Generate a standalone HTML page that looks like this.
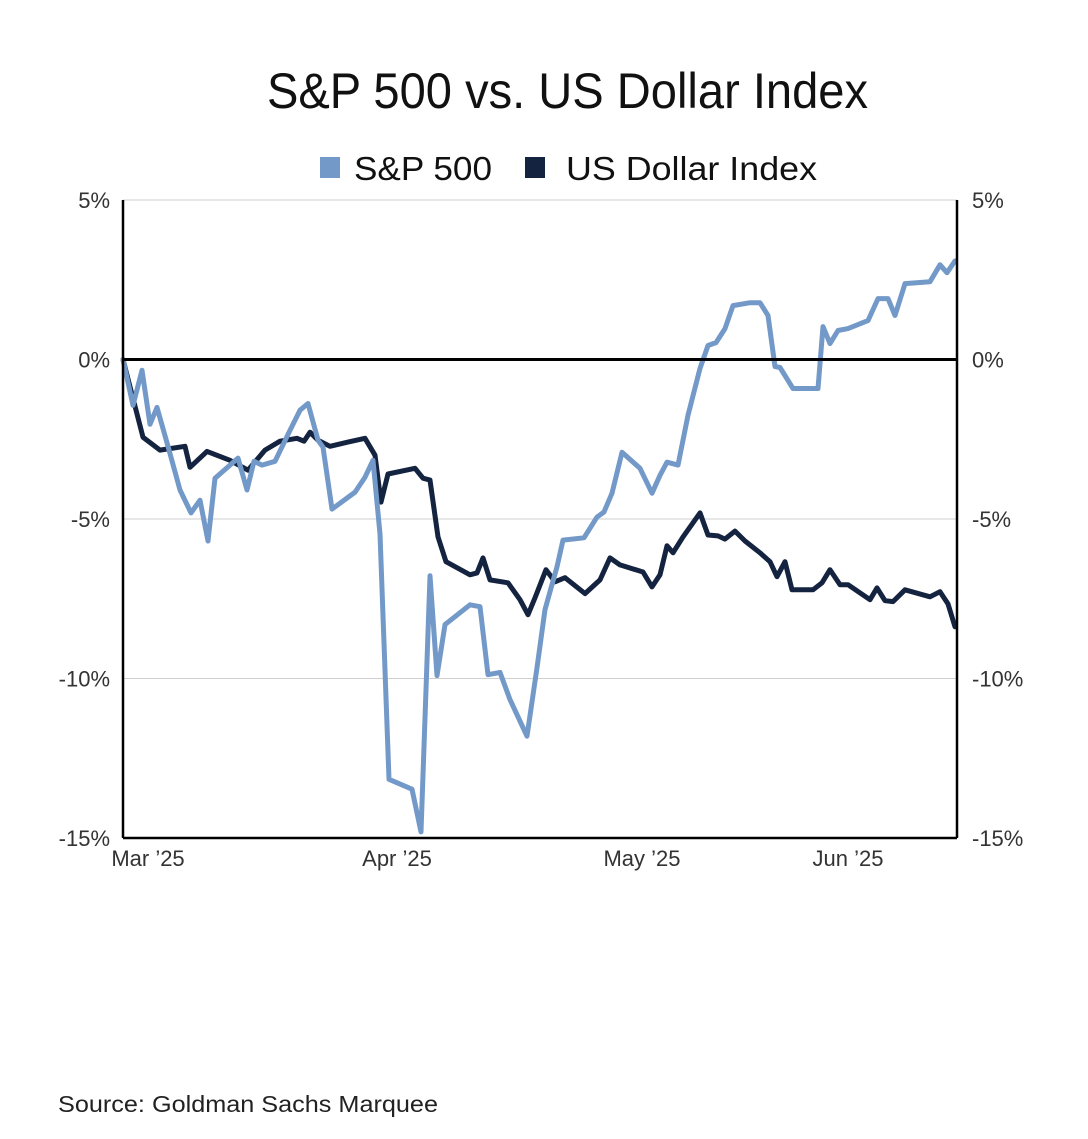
<!DOCTYPE html>
<html><head><meta charset="utf-8"><style>
body{margin:0;background:#fff;width:1088px;height:1134px;overflow:hidden}
svg text{font-family:"Liberation Sans Narrow","Liberation Sans",sans-serif}
</style></head><body>
<svg id="chart" width="1088" height="1134" xmlns="http://www.w3.org/2000/svg">
<text x="267" y="108" font-size="50" textLength="601" lengthAdjust="spacingAndGlyphs" fill="#111">S&amp;P 500 vs. US Dollar Index</text>
<rect x="320" y="157" width="20" height="21" fill="#7399c9"/>
<text x="354" y="180" font-size="33" textLength="138" lengthAdjust="spacingAndGlyphs" fill="#111">S&amp;P 500</text>
<rect x="525" y="157" width="20" height="21" fill="#14233f"/>
<text x="566" y="180" font-size="33" textLength="251" lengthAdjust="spacingAndGlyphs" fill="#111">US Dollar Index</text>
<g id="grid"></g><g id="series"></g><g id="axes"></g>
<text x="58" y="1112" font-size="23" textLength="380" lengthAdjust="spacingAndGlyphs" fill="#222" style="font-family:'Liberation Sans',sans-serif">Source: Goldman Sachs Marquee</text>
</svg>
<script>
const spDays=[0,1.0,1.9,2.7,3.4,4.5,5.7,6.8,7.7,8.5,9.2,11.5,12.4,13.1,13.9,15.2,16.7,17.7,18.5,19.5,20.0,20.9,23.2,24.2,25.0,25.7,26.6,28.9,29.8,30.7,31.4,32.2,34.7,35.7,36.5,37.7,38.7,40.4,41.4,42.2,43.4,44.0,46.1,47.4,48.1,48.9,49.9,51.7,52.9,53.7,54.4,55.5,56.5,57.7,58.5,59.3,60.2,61.0,62.7,63.7,64.5,65.2,65.7,67.0,69.5,70.0,70.7,71.5,72.5,74.5,75.5,76.5,77.2,78.2,80.7,81.7,82.4,83.2];
const spValues=[0,-1.44,-0.34,-2.03,-1.5,-2.72,-4.09,-4.81,-4.41,-5.69,-3.72,-3.09,-4.09,-3.19,-3.31,-3.19,-2.22,-1.59,-1.38,-2.53,-2.75,-4.69,-4.16,-3.69,-3.16,-5.47,-13.16,-13.47,-14.81,-6.78,-9.91,-8.31,-7.69,-7.75,-9.88,-9.81,-10.66,-11.81,-9.66,-7.84,-6.5,-5.66,-5.59,-4.94,-4.78,-4.19,-2.91,-3.41,-4.19,-3.63,-3.22,-3.31,-1.75,-0.28,0.44,0.53,0.97,1.69,1.78,1.78,1.38,-0.22,-0.25,-0.91,-0.91,1.03,0.5,0.91,0.97,1.22,1.91,1.91,1.38,2.38,2.44,2.97,2.72,3.09];
const usdDays=[0,1.0,2.0,3.7,6.2,6.7,8.4,10.7,12.5,14.2,15.7,17.4,18.1,18.7,19.5,20.7,22.5,24.2,25.2,25.8,26.5,29.2,30.0,30.7,31.5,32.3,34.7,35.4,36.0,36.7,38.5,39.7,40.5,41.2,42.3,43.2,44.2,46.2,47.7,48.7,49.7,52.0,52.9,53.7,54.4,55.0,56.0,57.7,58.5,59.5,60.2,61.2,62.2,63.7,64.7,65.4,66.2,66.9,69.0,69.9,70.7,71.7,72.5,74.7,75.4,76.2,77.0,78.2,80.7,81.7,82.5,83.2];
const usdValues=[0,-1.22,-2.44,-2.84,-2.72,-3.38,-2.88,-3.16,-3.47,-2.84,-2.56,-2.47,-2.56,-2.28,-2.53,-2.72,-2.59,-2.47,-3.0,-4.47,-3.59,-3.41,-3.72,-3.78,-5.56,-6.34,-6.75,-6.69,-6.22,-6.91,-7.0,-7.53,-8.0,-7.47,-6.59,-6.97,-6.84,-7.34,-6.91,-6.22,-6.44,-6.66,-7.13,-6.75,-5.84,-6.06,-5.56,-4.81,-5.5,-5.53,-5.63,-5.38,-5.69,-6.06,-6.34,-6.81,-6.34,-7.22,-7.22,-7.0,-6.59,-7.06,-7.06,-7.53,-7.16,-7.56,-7.59,-7.22,-7.44,-7.28,-7.66,-8.38];
const yTicks=[5,0,-5,-10,-15];
const yTickLabels=["5%","0%","-5%","-10%","-15%"];
const xTickDays=[2.5,27.4,51.9,72.5];
const xTickLabels=["Mar \u201925","Apr \u201925","May \u201925","Jun \u201925"];

const NS="http://www.w3.org/2000/svg";
const X0=123,X1=957,Y0=838,Y1=200;
const xs=d=>X0+(d/83.4)*(X1-X0);
const ys=v=>Y1+(5-v)/20*(Y0-Y1);
function mk(tag,attrs,parent){const e=document.createElementNS(NS,tag);for(const k in attrs)e.setAttribute(k,attrs[k]);parent.appendChild(e);return e;}
const grid=document.getElementById('grid'),series=document.getElementById('series'),axes=document.getElementById('axes');
yTicks.forEach((v,i)=>{
  if(v!==0&&v!==-15){const g=mk('line',{x1:X0,x2:X1,y1:ys(v),y2:ys(v),stroke:'#cfcfcf','stroke-width':1},grid);
  
  }
  const l=mk('text',{x:X0-13,y:ys(v)+8,'font-size':22,'text-anchor':'end',fill:'#333'},axes);l.textContent=yTickLabels[i];
  
  
  const r=mk('text',{x:X1+15,y:ys(v)+8,'font-size':22,'text-anchor':'start',fill:'#333'},axes);r.textContent=yTickLabels[i];
  
  
});
xTickDays.forEach((d,i)=>{
  const t=mk('text',{x:xs(d),y:866,'font-size':22,'text-anchor':'middle',fill:'#333'},axes);t.textContent=xTickLabels[i];
  
  
});
function path(days,vals,color,name){
  const d=days.map((t,i)=>(i?'L':'M')+xs(t).toFixed(1)+','+ys(vals[i]).toFixed(1)).join('');
  const p=mk('path',{d:d,fill:'none',stroke:color,'stroke-width':5,'stroke-linejoin':'round','stroke-linecap':'round'},series);
  
  
}
path(usdDays,usdValues,'#14233f','usd-line');
path(spDays,spValues,'#7399c9','sp500-line');
const z=mk('line',{x1:X0,x2:X1,y1:ys(0),y2:ys(0),stroke:'#000','stroke-width':3},axes);


const la=mk('line',{x1:X0,x2:X0,y1:Y1,y2:Y0,stroke:'#000','stroke-width':2.5},axes);


const ra=mk('line',{x1:X1,x2:X1,y1:Y1,y2:Y0,stroke:'#000','stroke-width':2.5},axes);


const ba=mk('line',{x1:X0,x2:X1,y1:Y0,y2:Y0,stroke:'#000','stroke-width':2.5},axes);


</script>
</body></html>
